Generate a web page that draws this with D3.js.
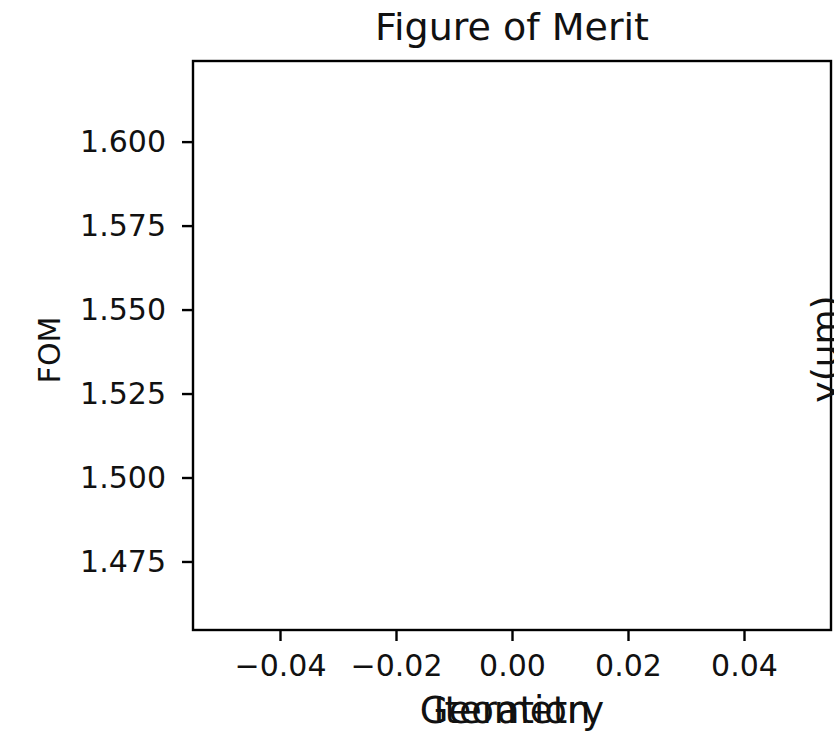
<!DOCTYPE html>
<html>
<head>
<meta charset="utf-8">
<script src="https://cdn.jsdelivr.net/npm/d3@7"></script>
<style>
  html, body { margin: 0; padding: 0; background: #fff; overflow: hidden; }
  svg { display: block; font-family: "DejaVu Sans", sans-serif; }
</style>
</head>
<body>
<svg id="chart" width="834" height="734"></svg>
<script>
// Figure-of-merit history (no iterations recorded yet)
const iterations = [];
const fomValues = [];

// Axis extents and tick values
const xDomain = [-0.055, 0.055];
const yDomain = [1.4546, 1.6240];
const xTickValues = [-0.04, -0.02, 0.00, 0.02, 0.04];
const yTickValues = [1.475, 1.500, 1.525, 1.550, 1.575, 1.600];

// Text
const titleText = "Figure of Merit";
const yLabelText = "FOM";
const xLabelTexts = ["Iteration", "Geometry"];
const rightLabelText = "y(um)";

const svg = d3.select("#chart");
const box = { left: 193, right: 831, top: 61, bottom: 630 };

const x = d3.scaleLinear().domain(xDomain).range([box.left, box.right]);
const y = d3.scaleLinear().domain(yDomain).range([box.bottom, box.top]);

const lw = 2.4;

// x axis
const xAxis = svg.append("g")
  .attr("transform", `translate(0,${box.bottom})`)
  .call(d3.axisBottom(x).tickValues(xTickValues).tickFormat(d3.format(".2f"))
        .tickSize(11).tickSizeOuter(0).tickPadding(14));
xAxis.select(".domain").remove();
xAxis.selectAll(".tick line").attr("stroke", "#000").attr("stroke-width", lw);
xAxis.selectAll(".tick text").attr("fill", "#111").attr("font-size", 30)
  .attr("font-family", "DejaVu Sans");

// y axis
const yAxis = svg.append("g")
  .attr("transform", `translate(${box.left},0)`)
  .call(d3.axisLeft(y).tickValues(yTickValues).tickFormat(d3.format(".3f"))
        .tickSize(11).tickSizeOuter(0).tickPadding(16));
yAxis.select(".domain").remove();
yAxis.selectAll(".tick line").attr("stroke", "#000").attr("stroke-width", lw);
yAxis.selectAll(".tick text").attr("fill", "#111").attr("font-size", 30)
  .attr("font-family", "DejaVu Sans");

// plot frame
svg.append("rect")
  .attr("x", box.left).attr("y", box.top)
  .attr("width", box.right - box.left).attr("height", box.bottom - box.top)
  .attr("fill", "none").attr("stroke", "#000").attr("stroke-width", lw);

// FOM points (none yet)
svg.append("g").selectAll("circle")
  .data(d3.zip(iterations, fomValues))
  .join("circle")
  .attr("cx", d => x(d[0])).attr("cy", d => y(d[1])).attr("r", 4)
  .attr("fill", "#1f77b4");

// title
svg.append("text")
  .attr("x", (box.left + box.right) / 2).attr("y", 40)
  .attr("text-anchor", "middle").attr("font-size", 38).attr("fill", "#111")
  .text(titleText);

// y label
svg.append("text")
  .attr("transform", "translate(60,350) rotate(-90)")
  .attr("text-anchor", "middle").attr("font-size", 30).attr("fill", "#111")
  .text(yLabelText);

// overlapping x labels
svg.append("g").selectAll("text")
  .data(xLabelTexts)
  .join("text")
  .attr("x", (box.left + box.right) / 2).attr("y", 723)
  .attr("text-anchor", "middle").attr("font-size", 37).attr("fill", "#111")
  .text(d => d);

// label of the neighbouring axes, clipped at the right edge
svg.append("text")
  .attr("transform", "translate(837,349) rotate(-90)")
  .attr("text-anchor", "middle").attr("font-size", 36).attr("fill", "#111")
  .text(rightLabelText);
</script>
</body>
</html>
